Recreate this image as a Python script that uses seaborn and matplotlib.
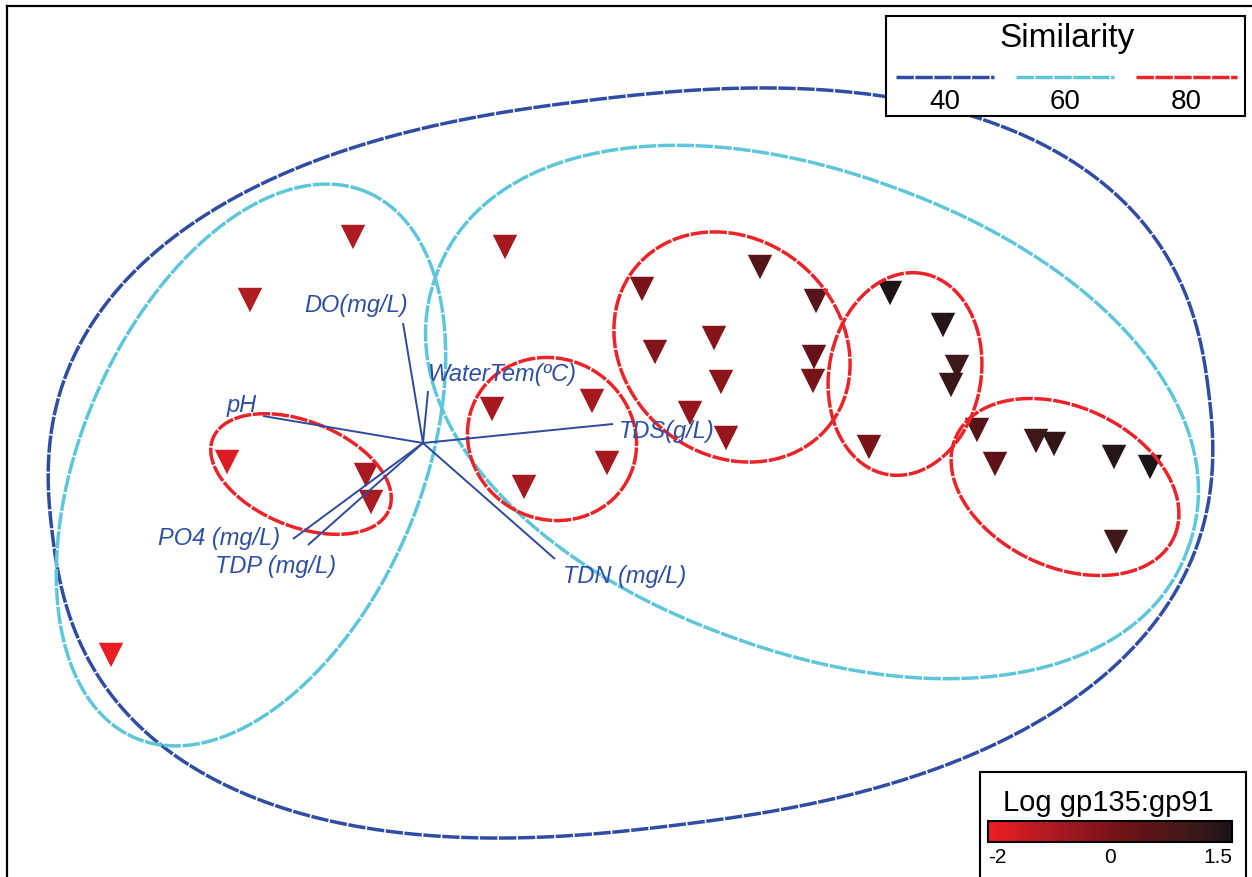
import numpy as np
import pandas as pd
import seaborn as sns
import matplotlib.pyplot as plt
from matplotlib.patches import Polygon
from matplotlib.colors import LinearSegmentedColormap, TwoSlopeNorm
from matplotlib.cm import ScalarMappable

sns.set_theme(style="white")
plt.rcParams['font.family'] = ['Liberation Sans', 'DejaVu Sans']

# nMDS sample scores and the colouring variable (log gp135:gp91)
mds1 = [-0.35, -0.865, -0.98, -0.285, -0.26, -1.56, 0.41,
        0.345, 0.845, 0.92, 0.505,
        1.095, 1.685, 1.965, 1.16, 1.455, 1.955, 1.49, 1.95, 1.335, 1.515,
        2.335, 2.60, 2.67, 2.64, 2.23,
        2.77, 2.86, 3.065, 3.155, 3.455, 3.635, 3.465]
mds2 = [1.03, 0.715, -0.095, -0.16, -0.295, -1.06, 0.98,
        0.17, 0.21, -0.10, -0.22,
        0.77, 0.88, 0.71, 0.455, 0.525, 0.43, 0.305, 0.31, 0.15, 0.025,
        0.75, 0.59, 0.38, 0.29, -0.02,
        0.065, -0.105, 0.01, -0.005, -0.07, -0.12, -0.495]
log_ratio = [-1.0, -1.0, -1.7, -0.85, -0.85, -1.95, -0.8,
             -0.8, -0.8, -0.8, -0.8,
             0.0, 0.65, 0.6, -0.1, -0.2, 0.3, -0.3, 0.05, -0.5, -0.5,
             1.45, 1.35, 0.95, 1.05, 0.0,
             0.6, 0.45, 0.95, 1.15, 1.35, 1.5, 0.95]

# environmental vectors (biplot)
vec_names = ["DO(mg/L)", "WaterTem(ºC)", "pH", "TDS(g/L)",
             "TDN (mg/L)", "PO4 (mg/L)", "TDP (mg/L)"]
vec_x = [-0.10, 0.025, -0.80, 0.95, 0.66, -0.65, -0.575]
vec_y = [0.60, 0.26, 0.135, 0.095, -0.58, -0.48, -0.51]

# similarity contours (group outlines): centre, extent, tilt, roundness
contour_level = [40, 60, 60, 80, 80, 80, 80, 80]
contour_cx = [1.0375, -0.86, 1.945, -0.61, 0.645, 1.545, 2.41, 3.21]
contour_cy = [-0.10, -0.11, 0.155, -0.155, 0.02, 0.48, 0.345, -0.22]
contour_w = [5.825, 2.965, 4.0, 0.95, 0.86, 1.25, 1.02, 1.2]
contour_h = [3.65, 1.70, 2.39, 0.525, 0.80, 1.075, 0.76, 0.8]
contour_angle = [7, 67, -20, -22, -30, -40, 80, -25]
contour_round = [2.4, 2.0, 2.1, 2.0, 2.0, 2.0, 2.0, 2.0]

level_colors = {40: '#2f4ea3', 60: '#5fc6da', 80: '#ec2328'}
vec_color = '#2d4a9c'
label_color = '#2f4fa6'
dash = (0, (5, 0.45))

cmap = LinearSegmentedColormap.from_list(
    'red_black',
    [(0.0, '#ed1c24'), (0.25, '#b01b21'), (0.5, '#7a1319'),
     (0.65, '#5e1217'), (0.8, '#45181a'), (1.0, '#1b1416')])
norm = TwoSlopeNorm(vmin=-2, vcenter=0, vmax=1.5)


def outline(cx, cy, w, h, angle, n, num=480):
    """Closed superellipse outline (n=2 gives an ordinary ellipse)."""
    t = np.linspace(0, 2 * np.pi, num, endpoint=False)
    c, s = np.cos(t), np.sin(t)
    u = np.sign(c) * np.abs(c) ** (2 / n) * w / 2
    v = np.sign(s) * np.abs(s) ** (2 / n) * h / 2
    th = np.deg2rad(angle)
    x = cx + u * np.cos(th) - v * np.sin(th)
    y = cy + u * np.sin(th) + v * np.cos(th)
    return np.column_stack([x, y])


W, H = 1252, 878
fig = plt.figure(figsize=(W / 100, H / 100), dpi=100)


def px_rect(x0, y0, x1, y1):
    return [x0 / W, 1 - y1 / H, (x1 - x0) / W, (y1 - y0) / H]


# main ordination panel (its frame runs off the right and bottom edges)
ax = fig.add_axes(px_rect(7, 7, 1262, 890))
scale, ox, oy = 200.0, 423, 444
ax.set_xlim((7 - ox) / scale, (1262 - ox) / scale)
ax.set_ylim((oy - 890) / scale, (oy - 7) / scale)
ax.set_xticks([])
ax.set_yticks([])
for sp in ax.spines.values():
    sp.set_color('black')
    sp.set_linewidth(1.6)

df = pd.DataFrame({'MDS1': mds1, 'MDS2': mds2, 'log_ratio': log_ratio})
sns.scatterplot(data=df, x='MDS1', y='MDS2', hue='log_ratio', palette=cmap,
                hue_norm=norm, marker='v', s=310, linewidth=0, legend=False,
                ax=ax, zorder=2)
ax.set_xlabel('')
ax.set_ylabel('')

for lev, cx, cy, w, h, a, n in zip(contour_level, contour_cx, contour_cy,
                                   contour_w, contour_h, contour_angle,
                                   contour_round):
    ax.add_patch(Polygon(outline(cx, cy, w, h, a, n), closed=True, fill=False,
                         ec=level_colors[lev], lw=2.5, ls=dash, zorder=3))

for vx, vy in zip(vec_x, vec_y):
    ax.plot([0, vx], [0, vy], color=vec_color, lw=1.4, zorder=4,
            solid_capstyle='butt')

# label anchors for the vectors
label_pos = {
    "DO(mg/L)": (-0.075, 0.69, 'right'),
    "WaterTem(ºC)": (0.025, 0.345, 'left'),
    "pH": (-0.83, 0.19, 'right'),
    "TDS(g/L)": (0.98, 0.06, 'left'),
    "TDN (mg/L)": (0.70, -0.665, 'left'),
    "PO4 (mg/L)": (-0.715, -0.475, 'right'),
    "TDP (mg/L)": (-0.435, -0.615, 'right'),
}
for name in vec_names:
    lx, ly, ha = label_pos[name]
    ax.text(lx, ly, name, ha=ha, va='center', fontsize=17, style='italic',
            color=label_color, zorder=5)

# similarity legend
lax = fig.add_axes(px_rect(886, 17, 1245, 117))
lax.set_xlim(886, 1245)
lax.set_ylim(117, 17)
lax.set_xticks([])
lax.set_yticks([])
for sp in lax.spines.values():
    sp.set_color('black')
    sp.set_linewidth(1.5)
lax.text(1067, 39, 'Similarity', ha='center', va='center', fontsize=24,
         color='black')
for lev, (x0, x1) in zip([40, 60, 80], [(896, 994), (1016, 1114), (1136, 1237)]):
    lax.plot([x0, x1], [78, 78], color=level_colors[lev], lw=2.5, ls=dash)
    lax.text((x0 + x1) / 2, 102, str(lev), ha='center', va='center',
             fontsize=20, color='black')

# colour key
kax = fig.add_axes(px_rect(980, 773, 1246, 890))
kax.set_xticks([])
kax.set_yticks([])
kax.set_facecolor('white')
for sp in kax.spines.values():
    sp.set_color('black')
    sp.set_linewidth(1.5)
kax.text(0.483, 1 - 30 / 117, 'Log gp135:gp91', transform=kax.transAxes,
         ha='center', va='center', fontsize=21, color='black')

cax = fig.add_axes(px_rect(988, 822, 1232, 843))
cb = fig.colorbar(ScalarMappable(norm=norm, cmap=cmap), cax=cax,
                  orientation='horizontal')
cb.set_ticks([])
cb.outline.set_linewidth(1.5)
cb.outline.set_edgecolor('black')
for v, txt, ha in [(-2, '-2', 'left'), (0, '0', 'center'), (1.5, '1.5', 'right')]:
    cax.text(float(norm(v)), -0.7, txt, transform=cax.transAxes, ha=ha,
             va='center', fontsize=15, color='black')

fig.savefig('out.png', dpi=100)
